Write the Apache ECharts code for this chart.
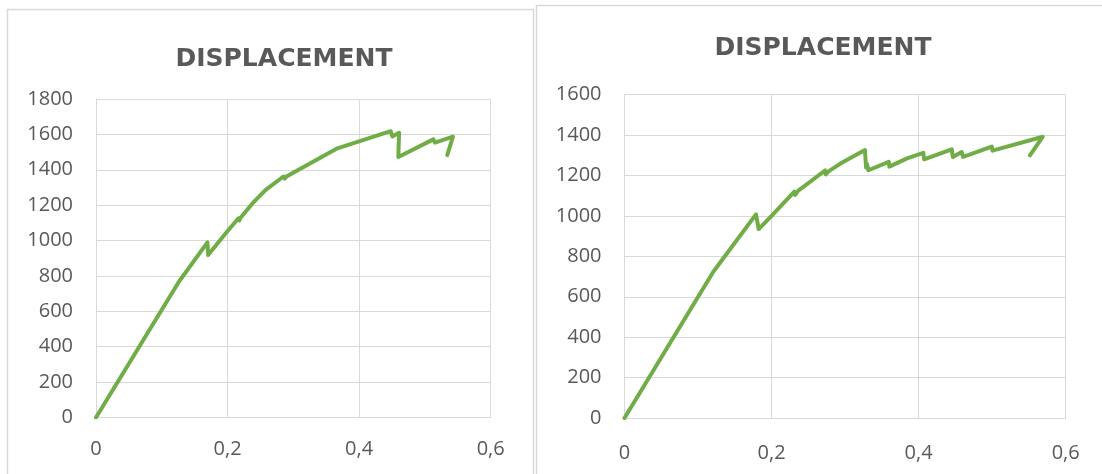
<!DOCTYPE html>
<html>
<head>
<meta charset="utf-8">
<script src="https://cdn.jsdelivr.net/npm/echarts@6/dist/echarts.min.js"></script>
<style>
  html, body { margin: 0; padding: 0; background: #ffffff; }
  #chart { width: 1102px; height: 474px; }
</style>
</head>
<body>
<div id="chart"></div>
<script>
// Load–displacement curves of the two test specimens
const chartTitle = 'DISPLACEMENT';

// Specimen 1: [displacement, load]
const displacementA = [0, 0.126, 0.1694, 0.1705, 0.1963, 0.2165, 0.218, 0.2195, 0.2378, 0.258, 0.285, 0.287, 0.2895, 0.367, 0.448, 0.4505, 0.4607, 0.4596, 0.5128, 0.5154, 0.5426, 0.534];
const loadA         = [0, 767, 990, 918, 1037, 1126, 1114, 1127, 1210, 1286, 1362, 1350, 1362, 1521, 1618, 1588, 1609, 1472, 1572, 1553, 1587, 1483];

// Specimen 2: [displacement, load]
const displacementB = [0, 0.1208, 0.1788, 0.1825, 0.2, 0.231, 0.2322, 0.236, 0.2727, 0.2737, 0.278, 0.293, 0.327, 0.3285, 0.3298, 0.3316, 0.3594, 0.3602, 0.3842, 0.4064, 0.4074, 0.445, 0.4465, 0.4586, 0.4605, 0.4995, 0.5005, 0.5688, 0.5514];
const loadB         = [0, 724, 1008, 935, 1000, 1120, 1104, 1124, 1225, 1205, 1222, 1258, 1326, 1240, 1256, 1226, 1268, 1244, 1285, 1312, 1280, 1330, 1292, 1316, 1292, 1343, 1323, 1392, 1300];

// Axis ticks
const xTickValues = [0, 0.2, 0.4, 0.6];
const xTickLabels = ['0', '0,2', '0,4', '0,6'];
const yMaxA = 1800;
const yMaxB = 1600;
const yStep = 200;

const pairs = (xs, ys) => xs.map((x, i) => [x, ys[i]]);

const GREEN = '#70ad47';
const GRID_LINE = '#d9d9d9';
const TEXT = '#595959';
const LABEL_FONT = '"Open Sans", "Noto Sans", sans-serif';

function xAxisFor(gridIndex, margin) {
  return {
    type: 'value', gridIndex, min: 0, max: 0.6, interval: 0.2,
    axisLine: { show: true, lineStyle: { color: GRID_LINE, width: 1 } },
    axisTick: { show: false },
    splitLine: { show: true, lineStyle: { color: GRID_LINE, width: 1 } },
    axisLabel: {
      margin, color: TEXT, fontSize: 20, fontFamily: LABEL_FONT,
      formatter: v => {
        const i = xTickValues.findIndex(t => Math.abs(t - v) < 1e-9);
        return i >= 0 ? xTickLabels[i] : '';
      }
    }
  };
}

function yAxisFor(gridIndex, max) {
  return {
    type: 'value', gridIndex, min: 0, max, interval: yStep,
    axisLine: { show: true, lineStyle: { color: GRID_LINE, width: 1 } },
    axisTick: { show: false },
    splitLine: { show: true, lineStyle: { color: GRID_LINE, width: 1 } },
    axisLabel: {
      margin: 23, color: TEXT, fontSize: 20, fontFamily: LABEL_FONT,
      formatter: v => String(Math.round(v))
    }
  };
}

function seriesFor(index, xs, ys) {
  return {
    type: 'line', xAxisIndex: index, yAxisIndex: index,
    data: pairs(xs, ys),
    showSymbol: false, symbol: 'none',
    lineStyle: { color: GREEN, width: 4, cap: 'round', join: 'round' },
    silent: true
  };
}

function titleText(x, y) {
  return {
    type: 'text', x, y, silent: true,
    style: {
      text: chartTitle, fill: TEXT, align: 'center', verticalAlign: 'middle',
      font: 'bold 25px "DejaVu Sans", sans-serif'
    }
  };
}

const chart = echarts.init(document.getElementById('chart'), null, { renderer: 'canvas' });
chart.setOption({
  animation: false,
  backgroundColor: '#ffffff',
  grid: [
    { left: 96, top: 99, width: 394.7, height: 318.5 },
    { left: 624.5, top: 94.7, width: 441.2, height: 323.3 }
  ],
  xAxis: [xAxisFor(0, 22), xAxisFor(1, 25)],
  yAxis: [yAxisFor(0, yMaxA), yAxisFor(1, yMaxB)],
  series: [
    seriesFor(0, displacementA, loadA),
    seriesFor(1, displacementB, loadB)
  ],
  graphic: [
    // panel frames
    { type: 'rect', shape: { x: 7.5, y: 9.5, width: 526, height: 480 }, style: { fill: 'none', stroke: '#d9d9d9', lineWidth: 1.5 }, silent: true, z: -1 },
    { type: 'rect', shape: { x: 536.5, y: 5.5, width: 580, height: 480 }, style: { fill: 'none', stroke: '#d9d9d9', lineWidth: 1.5 }, silent: true, z: -1 },
    titleText(284, 59),
    titleText(823, 48)
  ]
});
</script>
</body>
</html>
